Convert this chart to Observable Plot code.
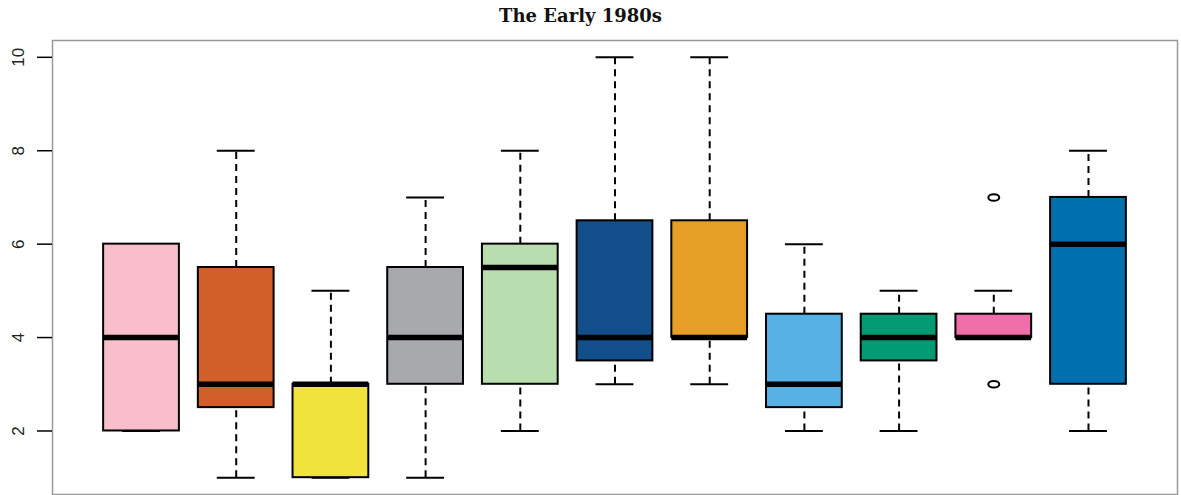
<!DOCTYPE html>
<html>
<head>
<meta charset="utf-8">
<script src="https://cdn.jsdelivr.net/npm/d3@7"></script>
<script src="https://cdn.jsdelivr.net/npm/@observablehq/plot@0.6"></script>
<style>
  body { margin: 0; background: #fff; }
  #chart svg { display: block; }
</style>
</head>
<body>
<div id="chart"></div>
<script>
const groups   = [1, 2, 3, 4, 5, 6, 7, 8, 9, 10, 11];
const lowW     = [2, 1, 1, 1, 2, 3, 3, 2, 2, 4, 2];
const q1       = [2, 2.5, 1, 3, 3, 3.5, 4, 2.5, 3.5, 4, 3];
const medians  = [4, 3, 3, 4, 5.5, 4, 4, 3, 4, 4, 6];
const q3       = [6, 5.5, 3, 5.5, 6, 6.5, 6.5, 4.5, 4.5, 4.5, 7];
const highW    = [6, 8, 5, 7, 8, 10, 10, 6, 5, 5, 8];
const colors   = ["#F9BECB", "#D15F29", "#F0E43C", "#A8A9AC", "#B8DDAF", "#114E8A",
                  "#E59F27", "#57B1E4", "#009B72", "#F06EA9", "#0070B0"];
const outGroup = [10, 10];
const outValue = [7, 3];
const yTicks   = [2, 4, 6, 8, 10];
const title    = "The Early 1980s";

const boxes = groups.map((g, i) => ({
  g, lo: lowW[i], q1: q1[i], med: medians[i], q3: q3[i], hi: highW[i], color: colors[i]
}));
const outliers = outGroup.map((g, i) => ({g, v: outValue[i]}));

const ellipse = {
  draw(context) {
    const rx = 5.5, ry = 3.3, k = 0.5523;
    context.moveTo(rx, 0);
    context.bezierCurveTo(rx, k * ry, k * rx, ry, 0, ry);
    context.bezierCurveTo(-k * rx, ry, -rx, k * ry, -rx, 0);
    context.bezierCurveTo(-rx, -k * ry, -k * rx, -ry, 0, -ry);
    context.bezierCurveTo(k * rx, -ry, rx, -k * ry, rx, 0);
    context.closePath();
  }
};

const bw = 0.4, cw = 0.2;

const chart = Plot.plot({
  width: 1181,
  height: 495,
  marginLeft: 52,
  marginRight: 4,
  marginTop: 40,
  marginBottom: 1,
  style: {background: "#fff", overflow: "visible"},
  x: {domain: [0.06, 11.94], axis: null},
  y: {domain: [0.64, 10.36], axis: null},
  marks: [
    Plot.frame({stroke: "#9a9a9a", strokeWidth: 1.5}),
    Plot.axisY(yTicks, {anchor: "left", tickSize: 15, tickFormat: () => "", label: null, strokeWidth: 1.5, stroke: "#000"}),
    Plot.text(yTicks, {
      y: d => d, text: d => String(d), frameAnchor: "left", dx: -34,
      rotate: -90, textAnchor: "middle", lineAnchor: "middle",
      fontSize: 17, fontFamily: "Liberation Sans, Arial, sans-serif", fill: "#222"
    }),
    // whiskers
    Plot.ruleX(boxes, {x: "g", y1: "q3", y2: "hi", stroke: "#000", strokeWidth: 2, strokeDasharray: "7,5"}),
    Plot.ruleX(boxes, {x: "g", y1: "lo", y2: "q1", stroke: "#000", strokeWidth: 2, strokeDasharray: "7,5"}),
    // caps
    Plot.ruleY(boxes, {y: "hi", x1: d => d.g - cw, x2: d => d.g + cw, stroke: "#000", strokeWidth: 2}),
    Plot.ruleY(boxes, {y: "lo", x1: d => d.g - cw, x2: d => d.g + cw, stroke: "#000", strokeWidth: 2}),
    // boxes
    Plot.rect(boxes, {x1: d => d.g - bw, x2: d => d.g + bw, y1: "q1", y2: "q3", fill: "color", stroke: "#000", strokeWidth: 2}),
    // medians
    Plot.ruleY(boxes, {y: "med", x1: d => d.g - bw, x2: d => d.g + bw, stroke: "#000", strokeWidth: 5.5}),
    // outliers
    Plot.dot(outliers, {x: "g", y: "v", symbol: ellipse, r: 4, fill: "none", stroke: "#000", strokeWidth: 2}),
    // title
    Plot.text([title], {
      text: d => d, frameAnchor: "top-left", dx: 528, dy: -24,
      textAnchor: "middle", lineAnchor: "middle",
      fontSize: 18, fontWeight: "bold", fontFamily: "DejaVu Serif, serif", fill: "#111"
    })
  ]
});
document.getElementById("chart").appendChild(chart);
</script>
</body>
</html>
